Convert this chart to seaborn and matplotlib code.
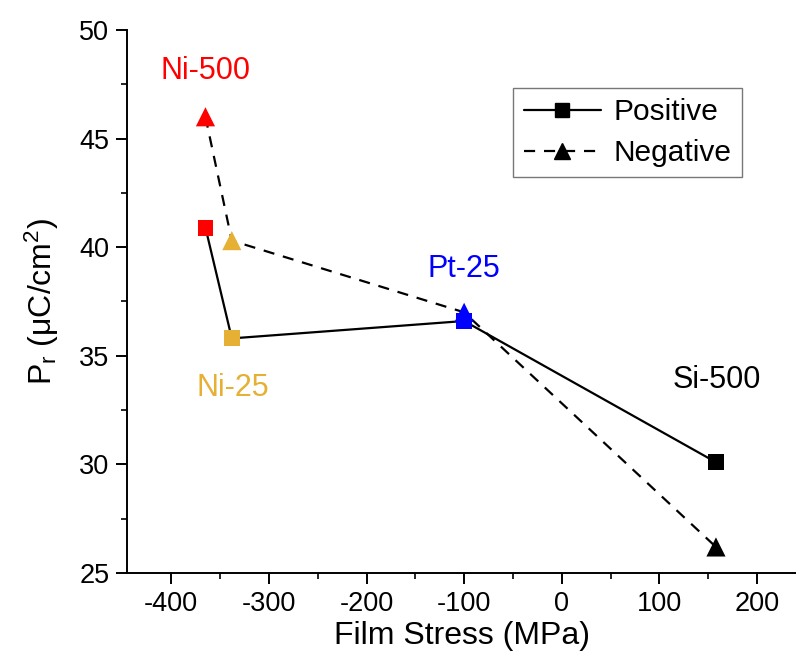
import matplotlib
matplotlib.use("Agg")
import matplotlib.pyplot as plt
import seaborn as sns
import pandas as pd
from matplotlib.lines import Line2D
from matplotlib.ticker import MultipleLocator

samples = ["Ni-500", "Ni-25", "Pt-25", "Si-500"]
stress = [-365, -338, -100, 158]
positive = [40.9, 35.8, 36.6, 30.1]
negative = [46.0, 40.3, 37.0, 26.2]
colors = ["#FF0000", "#E6B035", "#0000FF", "#000000"]
label_x = [-365, -337, -100, 159]
label_y = [48.1, 33.5, 39.0, 33.9]

sns.set_theme(style="ticks")
plt.rcParams["font.family"] = ["Liberation Sans", "DejaVu Sans"]
plt.rcParams["mathtext.fontset"] = "custom"
plt.rcParams["mathtext.rm"] = "Liberation Sans"
plt.rcParams["mathtext.it"] = "Liberation Sans"
plt.rcParams["axes.unicode_minus"] = False
plt.rcParams["text.color"] = "black"

df = pd.DataFrame({"sample": samples, "stress": stress,
                   "Positive": positive, "Negative": negative})
pal = dict(zip(samples, colors))

fig = plt.figure(figsize=(7.96, 6.64), dpi=100)
ax = fig.add_axes([0.16, 0.137, 0.84, 0.818])

sns.lineplot(data=df, x="stress", y="Positive", color="black", lw=1.6,
             sort=False, ax=ax, zorder=2)
sns.lineplot(data=df, x="stress", y="Negative", color="black", lw=1.6,
             sort=False, ax=ax, zorder=2, linestyle=(0, (5, 4)))
sns.scatterplot(data=df, x="stress", y="Positive", hue="sample", palette=pal,
                marker="s", s=130, edgecolor="none", legend=False, ax=ax, zorder=3)
sns.scatterplot(data=df, x="stress", y="Negative", hue="sample", palette=pal,
                marker="^", s=190, edgecolor="none", legend=False, ax=ax, zorder=3)

for name, lx, ly, c in zip(samples, label_x, label_y, colors):
    ax.text(lx, ly, name, color=c, fontsize=22, ha="center", va="center")

ax.set_xlim(-445, 240)
ax.set_ylim(25, 50)
ax.xaxis.set_major_locator(MultipleLocator(100))
ax.xaxis.set_minor_locator(MultipleLocator(50))
ax.yaxis.set_major_locator(MultipleLocator(5))
ax.yaxis.set_minor_locator(MultipleLocator(2.5))
ax.tick_params(which="major", direction="out", length=8, width=1.4,
               labelsize=19.5, color="black", labelcolor="black", pad=5)
ax.tick_params(which="minor", direction="out", length=4.5, width=1.2, color="black")
for s in ["top", "right"]:
    ax.spines[s].set_visible(False)
for s in ["left", "bottom"]:
    ax.spines[s].set_linewidth(1.4)
    ax.spines[s].set_color("black")

ax.set_xlabel("Film Stress (MPa)", fontsize=23, color="black", labelpad=3)
ax.set_ylabel(r"P$_\mathregular{r}$ ($\mathregular{\mu}$C/cm$^\mathregular{2}$)",
              fontsize=23, color="black", labelpad=13)

handles = [
    Line2D([], [], color="black", lw=1.6, marker="s", markersize=10, label="Positive"),
    Line2D([], [], color="black", lw=1.6, linestyle=(0, (5, 4)), marker="^",
           markersize=12, label="Negative"),
]
leg = ax.legend(handles=handles, loc="upper left", bbox_to_anchor=(0.577, 0.893),
                fontsize=21.5, frameon=True, fancybox=False, edgecolor="#555555",
                handlelength=2.6, borderpad=0.35, labelspacing=0.42, handletextpad=0.4,
                borderaxespad=0, labelcolor="black")
leg.get_frame().set_linewidth(1.0)

fig.savefig("out.png", dpi=100, facecolor="white")
